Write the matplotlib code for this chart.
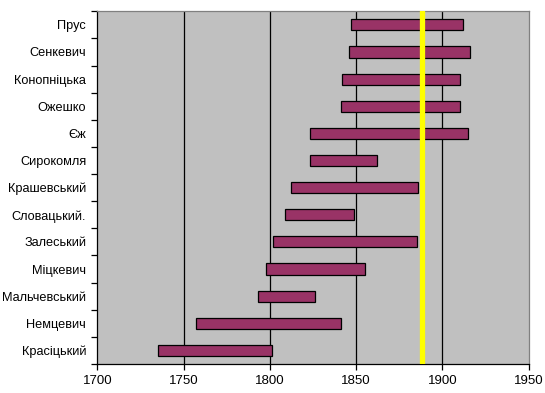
import matplotlib
matplotlib.use("Agg")
import matplotlib.pyplot as plt
from matplotlib.ticker import FixedLocator

names = ["Прус", "Сенкевич", "Конопніцька", "Ожешко", "Єж", "Сирокомля",
         "Крашевський", "Словацький.", "Залеський", "Міцкевич", "Мальчевський",
         "Немцевич", "Красіцький"]
born = [1847, 1846, 1842, 1841, 1823.5, 1823, 1812, 1809, 1802, 1798, 1793, 1757, 1735]
died = [1912, 1916, 1910, 1910, 1915, 1862, 1886, 1849, 1885, 1855, 1826, 1841, 1801]
marker_year = 1888
x_ticks = [1700, 1750, 1800, 1850, 1900, 1950]

fig = plt.figure(figsize=(5.45, 3.93), dpi=100)
ax = fig.add_axes([97.3/545, 1 - 364/393, (528.7-97.3)/545, (364-11.3)/393])
ax.set_facecolor("#c0c0c0")

n = len(names)
ypos = [n - 1 - i for i in range(n)]
widths = [d - b for b, d in zip(born, died)]
ax.barh(ypos, widths, left=born, height=0.41, color="#993366",
        edgecolor="black", linewidth=0.9, zorder=3)

for xv in x_ticks[1:-1]:
    ax.axvline(xv, color="black", linewidth=0.9, zorder=1)
ax.axvline(marker_year, color="#ffff00", linewidth=3.8, zorder=4)

ax.set_xlim(1700, 1950)
ax.set_ylim(-0.5, n - 0.5)
ax.set_xticks(x_ticks)
ax.set_xticklabels([str(v) for v in x_ticks], fontsize=9.5, family="Liberation Sans")
ax.set_yticks(ypos)
ax.set_yticklabels(names, fontsize=9.2, family="Liberation Sans")
ax.yaxis.set_minor_locator(FixedLocator([i - 0.5 for i in range(n + 1)]))
ax.tick_params(axis="y", which="major", length=0, pad=8)
ax.tick_params(axis="y", which="minor", length=4, width=0.9, color="black")
ax.tick_params(axis="x", which="major", length=4, width=0.9, color="black", pad=4)

for side in ["left", "bottom"]:
    ax.spines[side].set_color("black")
    ax.spines[side].set_linewidth(0.9)
for side in ["top", "right"]:
    ax.spines[side].set_color("#808080")
    ax.spines[side].set_linewidth(0.9)

fig.savefig("out.png", dpi=100, facecolor="white")
